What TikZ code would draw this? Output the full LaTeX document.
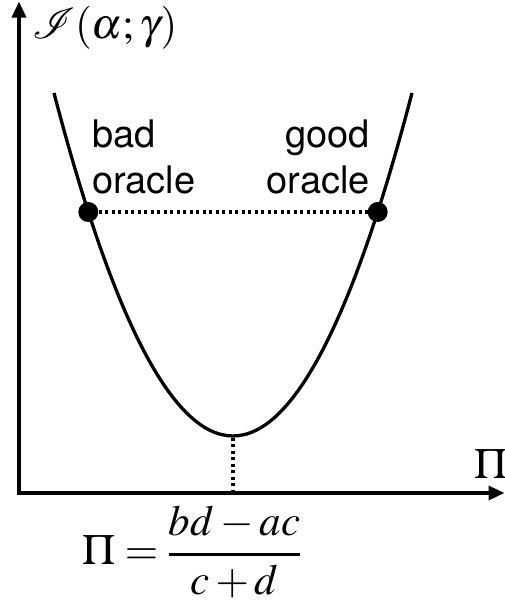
\documentclass[tikz,border=0pt]{standalone}
\usepackage{mathptmx}
\usepackage{mathrsfs}
\DeclareFontFamily{U}{rsfs}{\skewchar\font127 }
\DeclareFontShape{U}{rsfs}{m}{n}{<-> rsfs10}{}
\usepackage[no-math]{fontspec}
\newfontfamily\labelfont{TeX Gyre Heros}
\usetikzlibrary{arrows.meta}
\begin{document}
\begin{tikzpicture}[x=1pt,y=1pt,
  axis/.style={line width=3.5pt, line join=miter, {Triangle[width=14pt,length=16pt]}-{Triangle[width=14pt,length=16pt]}},
  curve/.style={line width=3.3pt},
  dotline/.style={line width=3.3pt, dash pattern=on 3pt off 3.5pt},
  blob/.style={circle, fill=black, minimum size=20pt, inner sep=0pt},
  lab/.style={font=\labelfont\fontsize{38}{46}\selectfont, inner sep=0pt},
  mlab/.style={font=\fontsize{43}{50}\selectfont, inner sep=0pt}]
\useasboundingbox (0,0) rectangle (505,-600);
\coordinate (ytop) at (19,-1.5);
\coordinate (O) at (19,-493);
\coordinate (xend) at (504.5,-493);
\draw[axis] (ytop) -- (O) -- (xend);
\draw[curve] (54,-93) .. controls (173.3,-550.3) and (292.7,-550.3) .. (412,-93);
\node[blob] (bad) at (88.3,-212) {};
\node[blob] (good) at (377.7,-212) {};
\draw[dotline] (bad) -- (good);
\coordinate (vtx) at (233,-437.5);
\coordinate (foot) at (233,-493);
\draw[dotline] (vtx) -- (foot);
\node[lab, align=left, anchor=base west] (badlab) at (92,-193) {bad\\oracle};
\node[lab, align=right, anchor=base east] (goodlab) at (370,-193) {good\\oracle};
\node[mlab, anchor=base west] (ylab) at (32,-38) {$\mathscr{I}(\alpha;\gamma)$};
\node[mlab, anchor=base west] (xlab) at (474,-478) {$\Pi$};
\node[mlab, anchor=west] (formula) at (82,-552) {$\displaystyle \Pi={bd-ac\above 3pt c+d}$};
\end{tikzpicture}
\end{document}
